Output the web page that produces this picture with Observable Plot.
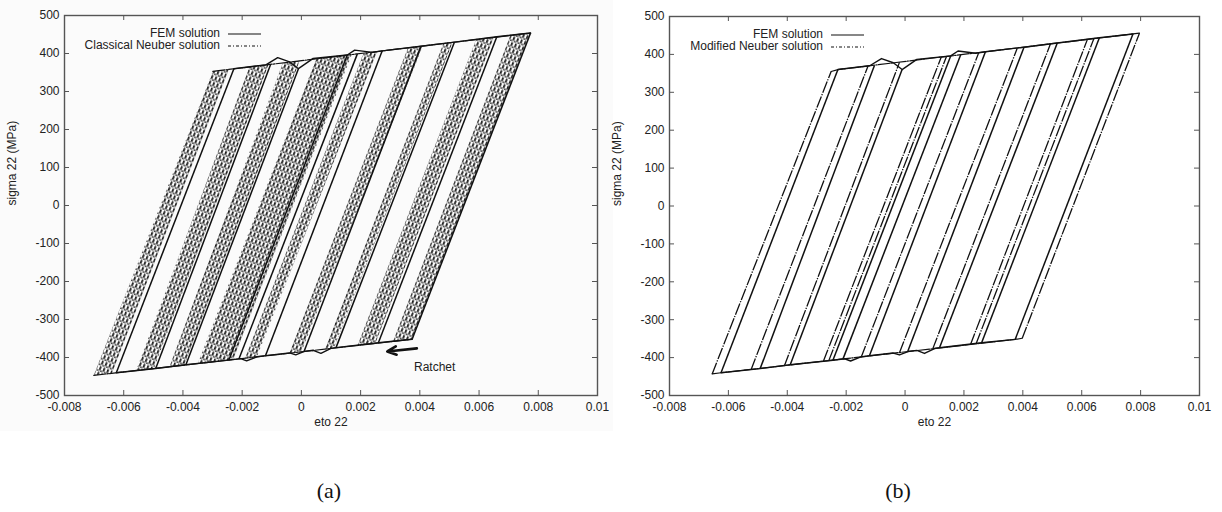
<!DOCTYPE html>
<html>
<head>
<meta charset="utf-8">
<script src="https://cdn.jsdelivr.net/npm/d3@7"></script>
<script src="https://cdn.jsdelivr.net/npm/@observablehq/plot@0.6"></script>
<style>
  html, body { margin: 0; padding: 0; background: #fff; }
  body { width: 1222px; height: 512px; position: relative; overflow: hidden;
         font-family: "Liberation Sans", Arial, sans-serif; }
  .bg { position: absolute; left: 0; top: 0; width: 613px; height: 431px; background: #fbfbfb; }
  .panel { position: absolute; top: 0; }
  .cap { position: absolute; top: 478px; width: 60px; margin-left: -30px; text-align: center;
         font-family: "Liberation Serif", "Times New Roman", serif; font-size: 22px; color: #111; }
</style>
</head>
<body>
<svg width="0" height="0" style="position:absolute">
  <defs>
    <pattern id="neuberTex" patternUnits="userSpaceOnUse" width="4" height="6" patternTransform="rotate(21)">
      <rect x="0" y="0" width="1.8" height="3.6" fill="#1e1e1e"/>
      <rect x="2.1" y="3.4" width="1.6" height="1.6" fill="#2a2a2a"/>
      <rect x="0.2" y="4.7" width="1.2" height="1.1" fill="#444"/>
    </pattern>
  </defs>
</svg>
<div class="bg"></div>
<div id="pa" class="panel" style="left:0px"></div>
<div id="pb" class="panel" style="left:611px"></div>
<div class="cap" style="left:329px">(a)</div>
<div class="cap" style="left:898px">(b)</div>
<script>
// ---------- axes ----------
const xTicks = [-0.008, -0.006, -0.004, -0.002, 0, 0.002, 0.004, 0.006, 0.008, 0.01];
const yTicks = [-500, -400, -300, -200, -100, 0, 100, 200, 300, 400, 500];

// ---------- FEM solution (same in both panels) ----------
// elastic branches: bottom point (strain, stress) and top point
const femBottomStrain = [0.00374, 0.0026, 0.00117, 0.00009, -0.00121, -0.00211, -0.00245, -0.0039, -0.00492, -0.00625];
const femBottomStress = [-352, -361, -374, -384, -395, -404, -407, -419, -429, -440];
const femTopStrain    = [0.00774, 0.0066, 0.00517, 0.00404, 0.00273, 0.00189, 0.00155, -0.0001, -0.00104, -0.00228];
const femTopStress    = [454, 444, 430, 419, 407, 399, 396, 360, 371, 360];
// upper (tension) envelope
const femUpperStrain = [-0.00228, -0.0012, -0.0008, -0.0004, -0.0001, 0.0004, 0.00155, 0.0018, 0.0024, 0.00273, 0.00404, 0.00517, 0.0066, 0.00774];
const femUpperStress = [360, 370, 389, 378, 360, 387, 396, 409, 403, 407, 419, 430, 444, 454];
// lower (compression) envelope
const femLowerStrain = [-0.00625, -0.00492, -0.0039, -0.00245, -0.00205, -0.00185, -0.0015, -0.00121, -0.0004, -0.00019, 0.0001, 0.0004, 0.00066, 0.001, 0.00117, 0.0026, 0.00374];
const femLowerStress = [-440, -429, -419, -407, -403, -409, -398, -395, -388, -393, -384, -381, -389, -376, -374, -361, -352];

// ---------- (a) Classical Neuber solution: bands of closely packed cycles ----------
const cnStrainBL = [-0.00701, -0.00558, -0.00445, -0.0035, -0.0019, -0.0004, 0.0008, 0.0019, 0.0031];
const cnStressBL = [-447, -434, -424, -416, -402, -388, -378, -368, -357];
const cnStrainTL = [-0.00299, -0.00175, -0.00063, 0.0005, 0.0021, 0.0036, 0.0048, 0.0059, 0.00706];
const cnStressTL = [353, 365, 375, 386, 401, 415, 427, 437, 448];
const cnStrainTR = [-0.00245, -0.00111, -0.00006, 0.0017, 0.00256, 0.0041, 0.0051, 0.0065, 0.00774];
const cnStressTR = [358, 371, 381, 397, 406, 420, 429, 443, 454];
const cnStrainBR = [-0.0064, -0.00498, -0.00395, -0.0023, -0.0015, 0.0, 0.0011, 0.0025, 0.00374];
const cnStressBR = [-442, -429, -420, -405, -398, -385, -375, -362, -352];
const cnUpperStrain = [-0.00299, 0.00774];
const cnUpperStress = [353, 454];
const cnLowerStrain = [-0.00701, 0.00374];
const cnLowerStress = [-447, -352];

// ---------- (b) Modified Neuber solution ----------
const mnBottomStrain = [0.00398, 0.00241, 0.00222, 0.00094, -0.00019, -0.00149, -0.00259, -0.00277, -0.0041, -0.00523, -0.00655];
const mnBottomStress = [-349, -364, -366, -377, -387, -399, -408, -409, -422, -432, -443];
const mnTopStrain    = [0.00796, 0.00641, 0.00619, 0.00494, 0.00381, 0.00251, 0.00141, 0.00123, -0.00019, -0.00126, -0.00251];
const mnTopStress    = [456, 441, 439, 428, 416, 406, 395, 393, 379, 369, 355];
const mnUpperStrain = [-0.00251, -0.00228, 0.00774, 0.00796];
const mnUpperStress = [355, 360, 454, 456];
const mnLowerStrain = [-0.00655, -0.00625, 0.00374, 0.00398];
const mnLowerStress = [-443, -440, -352, -349];

// ---------- annotation (a) ----------
const ratchetArrow = {x1: 0.0039, y1: -376, x2: 0.0029, y2: -384};
const ratchetLabel = {x: 0.0045, y: -426, text: "Ratchet"};

// ---------- builders ----------
const pts = (xs, ys) => xs.map((x, i) => ({x, y: ys[i]}));
const segs = (x1, y1, x2, y2) => x1.map((d, i) => ({x1: d, y1: y1[i], x2: x2[i], y2: y2[i]}));
const INK = "#111";
const DASH = "12,1.3,1.3,1.3";

const femMarks = [
  Plot.line(pts(femUpperStrain, femUpperStress), {x: "x", y: "y", stroke: INK, strokeWidth: 1.4}),
  Plot.line(pts(femLowerStrain, femLowerStress), {x: "x", y: "y", stroke: INK, strokeWidth: 1.4}),
  Plot.link(segs(femBottomStrain, femBottomStress, femTopStrain, femTopStress),
    {x1: "x1", y1: "y1", x2: "x2", y2: "y2", stroke: INK, strokeWidth: 1.5})
];

const bands = [];
cnStrainBL.forEach((_, i) => {
  bands.push({band: i, x: cnStrainBL[i], y: cnStressBL[i]});
  bands.push({band: i, x: cnStrainTL[i], y: cnStressTL[i]});
  bands.push({band: i, x: cnStrainTR[i], y: cnStressTR[i]});
  bands.push({band: i, x: cnStrainBR[i], y: cnStressBR[i]});
});

const classicalMarks = [
  Plot.line(bands, {x: "x", y: "y", z: "band", fill: "url(#neuberTex)", stroke: "none"}),
  Plot.line(pts(cnUpperStrain, cnUpperStress), {x: "x", y: "y", stroke: INK, strokeWidth: 1.2, strokeDasharray: DASH}),
  Plot.line(pts(cnLowerStrain, cnLowerStress), {x: "x", y: "y", stroke: INK, strokeWidth: 1.2, strokeDasharray: DASH}),
  Plot.arrow([ratchetArrow], {x1: "x1", y1: "y1", x2: "x2", y2: "y2", stroke: INK, strokeWidth: 2.6, headLength: 9, headAngle: 50}),
  Plot.text([ratchetLabel], {x: "x", y: "y", text: "text", fill: "#222", fontSize: 12})
];

const modifiedMarks = [
  Plot.line(pts(mnUpperStrain, mnUpperStress), {x: "x", y: "y", stroke: INK, strokeWidth: 1.2, strokeDasharray: DASH}),
  Plot.line(pts(mnLowerStrain, mnLowerStress), {x: "x", y: "y", stroke: INK, strokeWidth: 1.2, strokeDasharray: DASH}),
  Plot.link(segs(mnBottomStrain, mnBottomStress, mnTopStrain, mnTopStress),
    {x1: "x1", y1: "y1", x2: "x2", y2: "y2", stroke: INK, strokeWidth: 1.3, strokeDasharray: DASH})
];

function panel(el, {width, ml, mr, mt, mb, marks, legend}) {
  const H = 440;
  const plotW = width - ml - mr, plotH = H - mt - mb;
  const chart = Plot.plot({
    width, height: H, marginLeft: ml, marginRight: mr, marginTop: mt, marginBottom: mb,
    x: {domain: [-0.008, 0.01]},
    y: {domain: [-500, 500]},
    style: {background: "transparent", fontFamily: "'Liberation Sans', Arial, sans-serif", fontSize: "12px", color: "#222", overflow: "visible"},
    marks: [
      ...marks,
      Plot.frame({stroke: "#555", strokeWidth: 1.4}),
      Plot.tickX(xTicks, {x: d => d, insetTop: plotH - 5, stroke: "#555"}),
      Plot.tickX(xTicks, {x: d => d, insetBottom: plotH - 5, stroke: "#555"}),
      Plot.tickY(yTicks, {y: d => d, insetRight: plotW - 5, stroke: "#555"}),
      Plot.tickY(yTicks, {y: d => d, insetLeft: plotW - 5, stroke: "#555"}),
      Plot.axisX(xTicks, {tickSize: 0, tickPadding: 7, tickFormat: d => String(d), label: null}),
      Plot.axisY(yTicks, {tickSize: 0, tickPadding: 5, tickFormat: d => String(d), label: null}),
      Plot.text(["eto 22"], {frameAnchor: "bottom", dy: 30, text: d => d}),
      Plot.text(["sigma 22 (MPa)"], {frameAnchor: "left", dx: -52, rotate: -90, text: d => d})
    ]
  });
  // legend (gnuplot style, inside the frame, top-left)
  const svg = d3.select(chart);
  const g = svg.append("g").attr("font-size", 12).attr("fill", "#222");
  legend.items.forEach((it, i) => {
    const y = legend.y + i * 12;
    g.append("text").attr("x", legend.textEnd).attr("y", y).attr("text-anchor", "end")
      .attr("dominant-baseline", "middle").text(it.label);
    g.append("line").attr("x1", legend.textEnd + 8).attr("x2", legend.textEnd + 41)
      .attr("y1", y).attr("y2", y).attr("stroke", INK).attr("stroke-width", 1.1)
      .attr("stroke-dasharray", it.dash || null);
  });
  el.appendChild(chart);
}

panel(document.getElementById("pa"), {
  width: 611, ml: 64, mr: 14, mt: 15, mb: 45, marks: [...classicalMarks, ...femMarks],
  legend: {textEnd: 220, y: 34, items: [{label: "FEM solution"}, {label: "Classical Neuber solution", dash: "3,2,1,2"}]}
});
panel(document.getElementById("pb"), {
  width: 611, ml: 58, mr: 23, mt: 16, mb: 45, marks: [...femMarks, ...modifiedMarks],
  legend: {textEnd: 212, y: 35, items: [{label: "FEM solution"}, {label: "Modified Neuber solution", dash: "3,2,1,2"}]}
});
</script>
</body>
</html>
